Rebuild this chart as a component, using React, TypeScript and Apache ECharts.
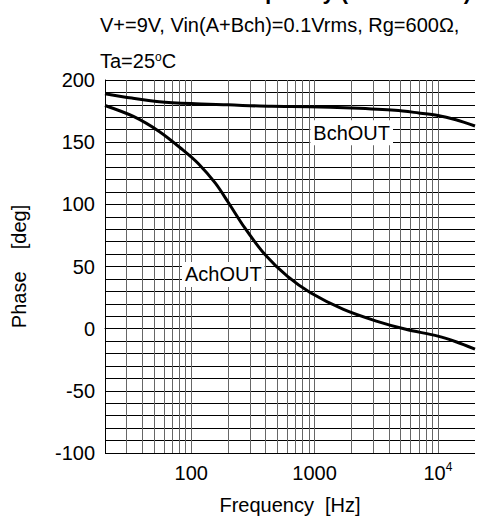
import React, { useEffect, useRef } from 'react';
import * as echarts from 'echarts';

const FONT = '"Liberation Sans", Arial, Helvetica, sans-serif';

// Data
const achFreq = [20, 34, 55, 85, 115, 157, 200, 272, 393, 604, 928, 1716, 3170, 5500, 10000, 14000, 20000];
const achPhase = [179.5, 170.7, 158.6, 144, 132.5, 117, 101.5, 81, 60, 42, 28.9, 15.5, 6.1, -0.5, -6, -10.5, -16.5];
const bchFreq = [20, 33, 55, 100, 200, 450, 900, 2000, 4500, 7000, 10000, 14000, 20000];
const bchPhase = [189, 185.5, 182.6, 181, 180, 178.8, 178.5, 177.4, 175.6, 173.5, 171.5, 168, 163];

const seriesNames = ['AchOUT', 'BchOUT'];
const achLabelAt = [182, 43.6];
const bchLabelAt = [2000, 157.5];

const xMin = 20;
const xMax = 20000;
const yMin = -100;
const yMax = 200;
const yStep = 50;
const gridFreqs = [
  30, 40, 50, 60, 70, 80, 90, 100,
  200, 300, 400, 500, 600, 700, 800, 900, 1000,
  2000, 3000, 4000, 5000, 6000, 7000, 8000, 9000, 10000,
];

const titleText = 'Phase vs. Frequency (Gain=40dB)';
const subtitle1 = 'V+=9V, Vin(A+Bch)=0.1Vrms, Rg=600Ω,';
const subtitle2 = 'Ta=25{sup|o}C';
const xName = 'Frequency  [Hz]';
const yName = 'Phase    [deg]';

export default function App() {
  const ref = useRef<HTMLDivElement>(null);
  useEffect(() => {
    if (!ref.current) return;
    const chart = echarts.init(ref.current, undefined, { renderer: 'svg' });
    const labelStyle = {
      show: true,
      position: 'inside',
      color: '#000',
      fontSize: 20,
      fontFamily: FONT,
      backgroundColor: '#fff',
      padding: [3, 3, 2, 3],
    };
    chart.setOption({
      animation: false,
      backgroundColor: '#fff',
      textStyle: { fontFamily: FONT },
      grid: { left: 105, top: 80, right: -2, bottom: 66 },
      graphic: [
        {
          type: 'text',
          x: 471,
          y: -9,
          style: {
            text: titleText,
            fontSize: 22,
            fontWeight: 'bold',
            fontFamily: FONT,
            fill: '#000',
            align: 'right',
            verticalAlign: 'middle',
          },
        },
        {
          type: 'text',
          x: 100,
          y: 25,
          style: {
            text: subtitle1,
            fontSize: 20,
            fontFamily: FONT,
            fill: '#000',
            align: 'left',
            verticalAlign: 'middle',
          },
        },
        {
          type: 'text',
          x: 100,
          y: 61,
          style: {
            text: subtitle2,
            fontSize: 20,
            fontFamily: FONT,
            fill: '#000',
            align: 'left',
            verticalAlign: 'middle',
            rich: {
              sup: { fontSize: 12, fontFamily: FONT, fill: '#000', verticalAlign: 'top', lineHeight: 12 },
            },
          },
        },
      ],
      xAxis: {
        type: 'log',
        logBase: 10,
        min: xMin,
        max: xMax,
        name: xName,
        nameLocation: 'middle',
        nameGap: 42,
        nameTextStyle: { fontSize: 20, color: '#000', fontFamily: FONT },
        axisLine: { show: true, lineStyle: { color: '#000', width: 1 } },
        axisTick: { show: false },
        splitLine: { show: false },
        axisLabel: {
          color: '#000',
          fontSize: 20,
          fontFamily: FONT,
          margin: 8,
          lineHeight: 24,
          formatter: (v: number) => {
            const e = Math.log10(v);
            const n = Math.round(e);
            if (Math.abs(e - n) > 1e-6) return '';
            if (n >= 4) return '10{sup|' + n + '}';
            return String(Math.pow(10, n));
          },
          rich: {
            sup: { fontSize: 12, fontFamily: FONT, color: '#000', verticalAlign: 'top', lineHeight: 12 },
          },
        },
      },
      yAxis: {
        type: 'value',
        min: yMin,
        max: yMax,
        interval: yStep,
        name: yName,
        nameLocation: 'middle',
        nameGap: 76,
        nameTextStyle: { fontSize: 20, color: '#000', fontFamily: FONT },
        axisLine: { show: true, lineStyle: { color: '#000', width: 1 } },
        axisTick: { show: false },
        minorTick: { show: false, splitNumber: 5 },
        splitLine: { show: true, lineStyle: { color: '#000', width: 1 } },
        minorSplitLine: { show: true, lineStyle: { color: '#000', width: 1 } },
        axisLabel: { color: '#000', fontSize: 20, fontFamily: FONT, margin: 10 },
      },
      series: [
        {
          name: seriesNames[1],
          type: 'line',
          z: 3,
          data: bchFreq.map((f, i) => [f, bchPhase[i]]),
          showSymbol: false,
          smooth: 0.3,
          lineStyle: { color: '#000', width: 3 },
          markLine: {
            silent: true,
            z: 1,
            symbol: ['none', 'none'],
            label: { show: false },
            lineStyle: { color: '#666', width: 1, type: 'solid' },
            data: gridFreqs.map((f) => ({ xAxis: f })),
          },
          markPoint: {
            silent: true,
            symbol: 'rect',
            symbolSize: 1,
            itemStyle: { color: 'rgba(0,0,0,0)' },
            label: { ...labelStyle, formatter: seriesNames[1] },
            data: [{ coord: bchLabelAt }],
          },
        },
        {
          name: seriesNames[0],
          type: 'line',
          z: 3,
          data: achFreq.map((f, i) => [f, achPhase[i]]),
          showSymbol: false,
          smooth: 0.3,
          lineStyle: { color: '#000', width: 3 },
          markPoint: {
            silent: true,
            symbol: 'rect',
            symbolSize: 1,
            itemStyle: { color: 'rgba(0,0,0,0)' },
            label: { ...labelStyle, formatter: seriesNames[0] },
            data: [{ coord: achLabelAt }],
          },
        },
      ],
    });
    return () => chart.dispose();
  }, []);
  return (
    <div
      ref={ref}
      style={{ position: 'fixed', left: 0, top: 0, width: 478, height: 520, background: '#fff' }}
    />
  );
}
